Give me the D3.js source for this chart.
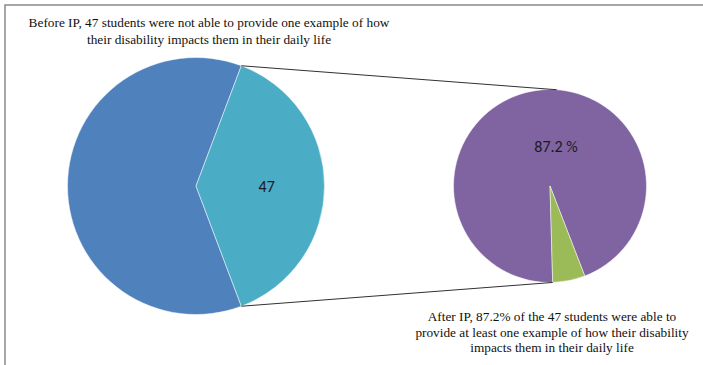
<!DOCTYPE html>
<html>
<head>
<meta charset="utf-8">
<script src="https://cdn.jsdelivr.net/npm/d3@7"></script>
<style>
  body { margin: 0; background: #fff; }
  #chart { width: 703px; height: 365px; }
</style>
</head>
<body>
<div id="chart"></div>
<script>
// Primary pie: students who could / could not give an example before IP
const primaryLabels = ["Others", "Not able before IP"];
const primaryValues = [75, 47];
const primaryColors = ["#4F81BD", "#4BACC6"];

// Secondary pie: breakdown of the 47 after IP
const secondaryLabels = ["Able after IP", "Not able after IP"];
const secondaryValues = [87.2, 5];
const secondaryColors = ["#8064A2", "#9BBB59"];

const topNote = [
  "Before IP, 47 students were not able to provide one example of how",
  "their disability impacts them in their daily life",
];
const bottomNote = [
  "After IP, 87.2% of the 47 students were able to",
  "provide at least one example of how their disability",
  "impacts them in their daily life",
];

const width = 703;
const height = 365;

const svg = d3
  .select("#chart")
  .append("svg")
  .attr("width", width)
  .attr("height", height);

// chart frame (only left and top edges are visible in the window)
svg
  .append("rect")
  .attr("x", 5)
  .attr("y", 5)
  .attr("width", width + 20)
  .attr("height", height + 20)
  .attr("fill", "none")
  .attr("stroke", "#8a8a8a")
  .attr("stroke-width", 1.5);

const deg = Math.PI / 180;

// Primary pie - the "other" slice faces the secondary pie (centered at 3 o'clock)
const p1 = { cx: 196, cy: 186, r: 128.5 };
const total1 = d3.sum(primaryValues);
const otherSpan = (primaryValues[1] / total1) * 2 * Math.PI;
const pie1 = d3
  .pie()
  .sort(null)
  .startAngle(Math.PI / 2 + otherSpan / 2)
  .endAngle(Math.PI / 2 + otherSpan / 2 + 2 * Math.PI);
const arcs1 = pie1(primaryValues);
const arc1 = d3.arc().innerRadius(0).outerRadius(p1.r);

const g1 = svg.append("g").attr("transform", `translate(${p1.cx},${p1.cy})`);
g1.selectAll("path")
  .data(arcs1)
  .join("path")
  .attr("d", arc1)
  .attr("fill", (d, i) => primaryColors[i])
  .attr("stroke", "#ffffff")
  .attr("stroke-width", 0.5);

// Secondary pie
const p2 = { cx: 550, cy: 186, r: 96.5 };
const rot2 = 178.4 * deg;
const pie2 = d3.pie().sort(null).startAngle(rot2).endAngle(rot2 + 2 * Math.PI);
const arcs2 = pie2(secondaryValues);
const arc2 = d3.arc().innerRadius(0).outerRadius(p2.r);

const g2 = svg.append("g").attr("transform", `translate(${p2.cx},${p2.cy})`);
g2.selectAll("path")
  .data(arcs2)
  .join("path")
  .attr("d", arc2)
  .attr("fill", (d, i) => secondaryColors[i])
  .attr("stroke", "#ffffff")
  .attr("stroke-width", 0.5);

// connector lines from the "other" slice edges to the secondary pie
const onCircle = (p, a) => [p.cx + p.r * Math.sin(a), p.cy - p.r * Math.cos(a)];
const otherArc = arcs1[1];
const connectors = [
  [onCircle(p1, otherArc.startAngle), onCircle(p2, 4 * deg)],
  [onCircle(p1, otherArc.endAngle), onCircle(p2, arcs2[0].startAngle)],
];
svg
  .selectAll("line.connector")
  .data(connectors)
  .join("line")
  .attr("class", "connector")
  .attr("x1", (d) => d[0][0])
  .attr("y1", (d) => d[0][1])
  .attr("x2", (d) => d[1][0])
  .attr("y2", (d) => d[1][1])
  .attr("stroke", "#1a1a1a")
  .attr("stroke-width", 0.9);

// data labels
const labelFont = "Carlito, 'Liberation Sans', Arial, sans-serif";
const lab1 = d3.arc().innerRadius(p1.r * 0.55).outerRadius(p1.r * 0.55).centroid(otherArc);
svg
  .append("text")
  .attr("x", p1.cx + lab1[0])
  .attr("y", p1.cy + lab1[1] + 5.5)
  .attr("text-anchor", "middle")
  .attr("font-family", labelFont)
  .attr("font-size", "16px")
  .attr("fill", "#1a1a1a")
  .text(primaryValues[1]);

svg
  .append("text")
  .attr("x", p2.cx + 6)
  .attr("y", p2.cy - 34.5)
  .attr("text-anchor", "middle")
  .attr("font-family", labelFont)
  .attr("font-size", "16px")
  .attr("fill", "#1a1a1a")
  .text(`${secondaryValues[0]} %`);

// notes
const noteFont = "'Liberation Serif', 'Times New Roman', serif";
function addNote(lines, x, y0, lineH) {
  svg
    .append("g")
    .selectAll("text")
    .data(lines)
    .join("text")
    .attr("x", x)
    .attr("y", (d, i) => y0 + i * lineH)
    .attr("text-anchor", "middle")
    .attr("font-family", noteFont)
    .attr("font-size", "13.3px")
    .attr("fill", "#111")
    .text((d) => d);
}
addNote(topNote, 209, 27, 16.5);
addNote(bottomNote, 552, 321, 15.5);
</script>
</body>
</html>
